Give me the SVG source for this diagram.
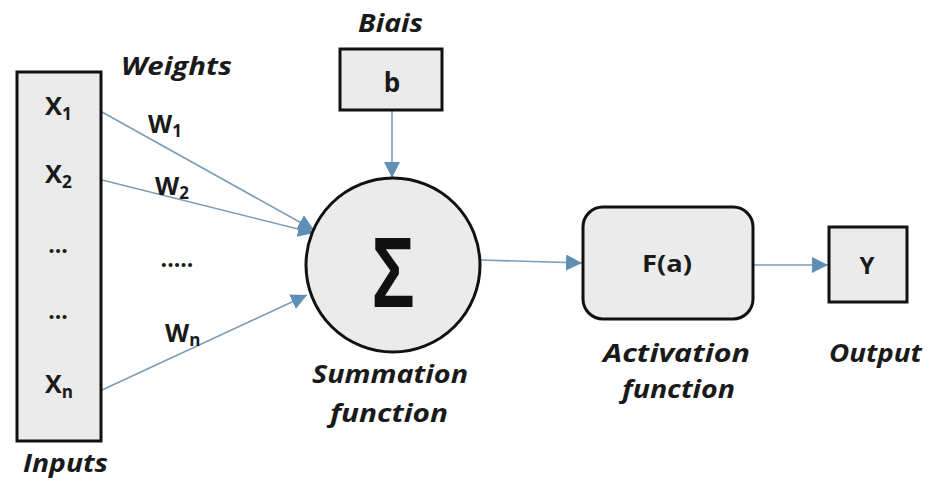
<svg xmlns="http://www.w3.org/2000/svg" width="932" height="486" viewBox="0 0 932 486">
<style>
.box{fill:#ebebeb;stroke:#111;stroke-width:3}
.lbl{font-family:"Open Sans","Liberation Sans",sans-serif;font-weight:bold;font-style:italic;font-size:25px;fill:#1a1a1a}
.t{font-family:"Open Sans","Liberation Sans",sans-serif;font-weight:bold;font-size:23px;fill:#1a1a1a}
.x{font-size:25px}
.w{font-size:25px}
.sub{font-size:17px}
.c{fill:none;stroke:#7b9db8;stroke-width:1.6}
</style>
<defs>
<marker id="ahl" viewBox="0 0 10 10" refX="10" refY="5" markerWidth="16" markerHeight="16" markerUnits="userSpaceOnUse" orient="auto">
<path d="M0,0 L10,5 L0,10 z" fill="#5f8fb4"/>
</marker>
</defs>
<rect width="932" height="486" fill="#fff"/>
<g id="connectors">
<line class="c" x1="102" y1="112" x2="314" y2="230" marker-end="url(#ahl)"/>
<line class="c" x1="102" y1="180" x2="314" y2="233" marker-end="url(#ahl)"/>
<line class="c" x1="102" y1="390" x2="307" y2="295" marker-end="url(#ahl)"/>
<line class="c" x1="392" y1="110" x2="392" y2="178" marker-end="url(#ahl)"/>
<line class="c" x1="480" y1="260" x2="582" y2="263" marker-end="url(#ahl)"/>
<line class="c" x1="753" y1="265" x2="828" y2="265" marker-end="url(#ahl)"/>
</g>
<g id="inputs">
<rect class="box" x="17" y="72" width="84" height="369"/>
<text class="t x" x="45" y="115" textLength="27" lengthAdjust="spacingAndGlyphs">X<tspan class="sub" dy="5">1</tspan></text>
<text class="t x" x="45" y="183" textLength="27" lengthAdjust="spacingAndGlyphs">X<tspan class="sub" dy="5">2</tspan></text>
<text class="t" x="58" y="253" text-anchor="middle">...</text>
<text class="t" x="58" y="319" text-anchor="middle">...</text>
<text class="t x" x="45" y="393" textLength="28" lengthAdjust="spacingAndGlyphs">X<tspan class="sub" dy="5">n</tspan></text>
<text class="lbl" x="23" y="472" textLength="85" lengthAdjust="spacingAndGlyphs">Inputs</text>
</g>
<g id="weights">
<text class="lbl" x="121" y="75" textLength="111" lengthAdjust="spacingAndGlyphs">Weights</text>
<text class="t w" x="148" y="133">W<tspan class="sub" dy="4">1</tspan></text>
<text class="t w" x="155" y="195">W<tspan class="sub" dy="4">2</tspan></text>
<text class="t" x="177" y="267" text-anchor="middle">.....</text>
<text class="t w" x="165" y="342">W<tspan class="sub" dy="4">n</tspan></text>
</g>
<g id="bias">
<text class="lbl" x="358" y="32" textLength="65" lengthAdjust="spacingAndGlyphs">Biais</text>
<rect class="box" x="340" y="49" width="102" height="61"/>
<text class="t" x="392" y="92" text-anchor="middle" style="font-size:26px">b</text>
</g>
<g id="summation">
<circle class="box" cx="393" cy="265" r="87"/>
<text x="0" y="0" transform="translate(393,307) scale(0.72,1)" text-anchor="middle" font-family="'Liberation Sans',sans-serif" font-weight="bold" font-size="100" fill="#111">Σ</text>
<text class="lbl" x="312" y="383" textLength="156" lengthAdjust="spacingAndGlyphs">Summation</text>
<text class="lbl" x="330" y="422" textLength="118" lengthAdjust="spacingAndGlyphs">function</text>
</g>
<g id="activation">
<rect class="box" x="583" y="207" width="170" height="112" rx="20"/>
<text class="t" x="642" y="272" textLength="50" lengthAdjust="spacingAndGlyphs">F(a)</text>
<text class="lbl" x="603" y="362" textLength="147" lengthAdjust="spacingAndGlyphs">Activation</text>
<text class="lbl" x="622" y="398" textLength="113" lengthAdjust="spacingAndGlyphs">function</text>
</g>
<g id="output">
<rect class="box" x="829" y="227" width="78" height="75"/>
<text class="t" x="867" y="274" text-anchor="middle" style="font-size:24px">Y</text>
<text class="lbl" x="829" y="362" textLength="93" lengthAdjust="spacingAndGlyphs">Output</text>
</g>
</svg>
